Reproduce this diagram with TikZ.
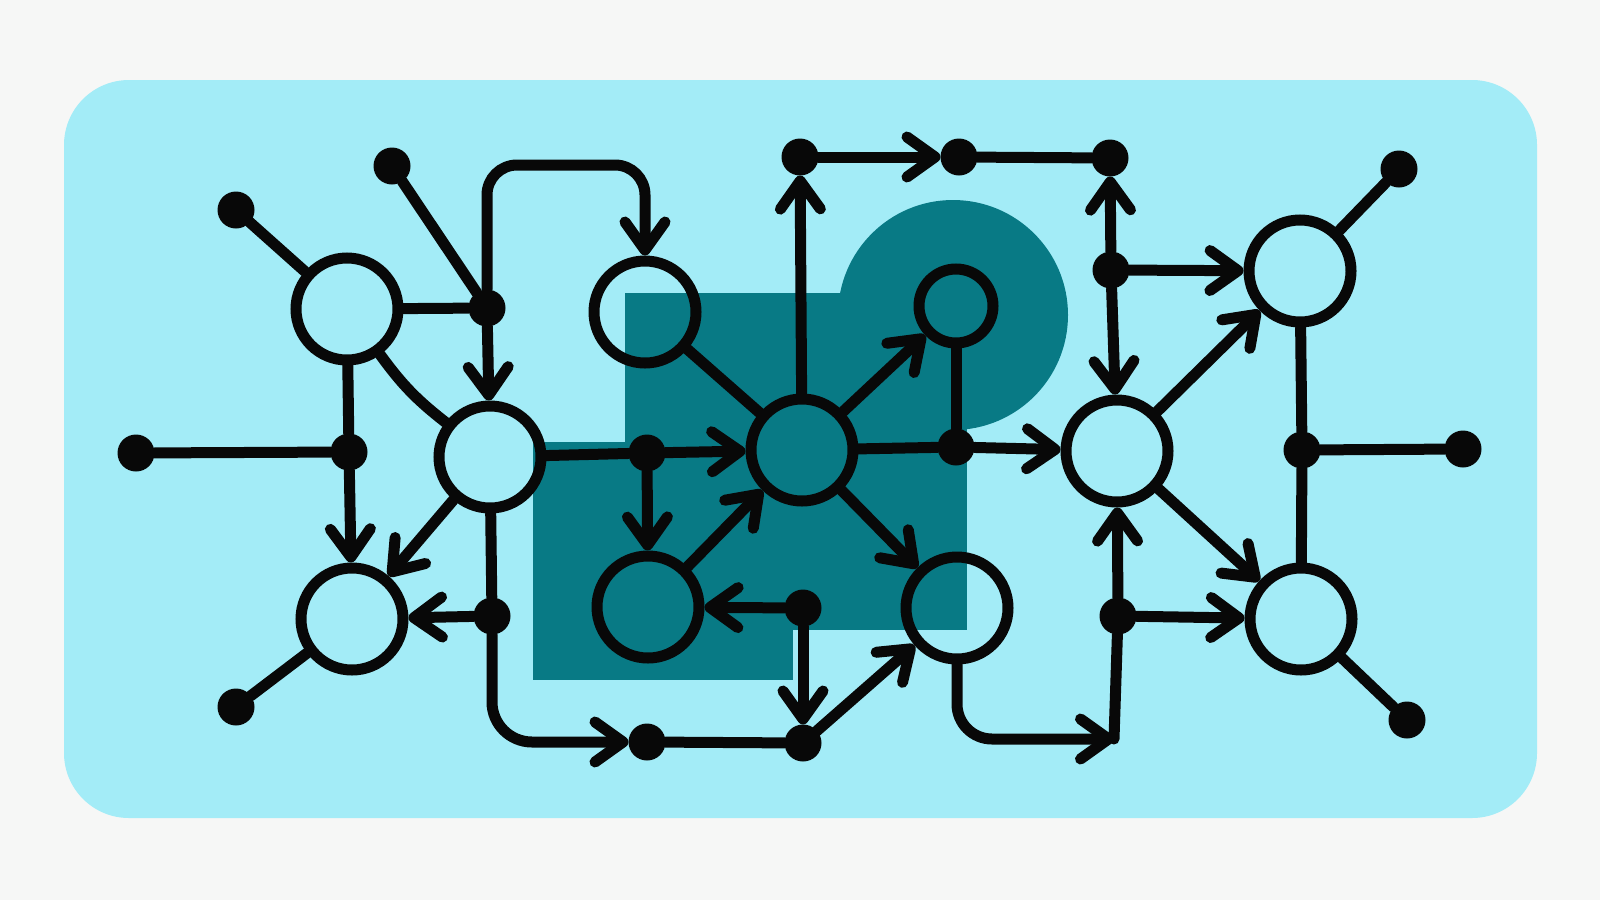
\documentclass[tikz,border=0pt]{standalone}
\usetikzlibrary{arrows.meta}

\definecolor{pagebg}{HTML}{F6F7F6}
\definecolor{panel}{HTML}{A3ECF7}
\definecolor{deepteal}{HTML}{087A85}
\definecolor{ink}{HTML}{080808}

\begin{document}
\begin{tikzpicture}[
    x=1pt, y=-1pt,
    hub/.style={circle, draw=ink, line width=11pt, minimum size=102pt, inner sep=0pt},
    smallhub/.style={hub, minimum size=74pt},
    junction/.style={circle, fill=ink, minimum size=37pt, inner sep=0pt, outer sep=0pt},
    wire/.style={draw=ink, line width=11pt, line cap=round},
    arrowwire/.style={wire, -{Straight Barb[length=28pt, width=40pt, round]}}
]
\useasboundingbox (0,0) rectangle (1600,900);

% Background panel
\fill[pagebg] (0,0) rectangle (1600,900);
\fill[panel, rounded corners=65] (64,80) rectangle (1537,818);

% Dark blocks behind the graph
\fill[deepteal] (625,293) rectangle (967,630);
\fill[deepteal] (953,315) circle[radius=115];
\fill[deepteal] (533,442) rectangle (793,680);

% Open hubs
\node[hub] (c1) at (347,309) {};
\node[hub] (c2) at (490,457) {};
\node[hub] (c3) at (352,619) {};
\node[hub] (c4) at (645,312) {};
\node[hub] (c5) at (802,450) {};
\node[smallhub] (c6) at (956,306) {};
\node[hub] (c7) at (648,607) {};
\node[hub] (c8) at (957,608) {};
\node[hub] (c9) at (1117,451) {};
\node[hub] (c10) at (1300,271) {};
\node[hub] (c11) at (1301,619) {};

% Junction dots
\node[junction] (d1) at (236,210) {};
\node[junction] (d2) at (392,166) {};
\node[junction] (d3) at (487,308) {};
\node[junction] (d4) at (136,453) {};
\node[junction] (d5) at (349,452) {};
\node[junction] (d6) at (492,616) {};
\node[junction] (d7) at (236,707) {};
\node[junction] (d8) at (647,453) {};
\node[junction] (d9) at (800,157) {};
\node[junction] (d10) at (959,157) {};
\node[junction] (d11) at (1110,158) {};
\node[junction] (d12) at (1111,270) {};
\node[junction] (d13) at (956,447) {};
\node[junction] (d14) at (803,608) {};
\node[junction] (d15) at (647,742) {};
\node[junction] (d16) at (803,743) {};
\node[junction] (d17) at (1399,169) {};
\node[junction] (d18) at (1302,450) {};
\node[junction] (d19) at (1463,449) {};
\node[junction] (d20) at (1118,616) {};
\node[junction] (d21) at (1407,720) {};
\coordinate (jn) at (1114,739);

% Left cluster
\draw[wire] (d1) -- (c1);
\draw[wire] (d2) -- (d3);
\draw[wire] (c1) -- (d3);
\draw[arrowwire] (d3) -- (c2);
\draw[arrowwire, rounded corners=30] (d3) -- ++(0,-143) -| (c4);
\draw[wire] (c1) to[bend right=8] (c2);
\draw[wire] (c1) -- (d5);
\draw[wire] (d4) -- (d5);
\draw[arrowwire] (d5) -- (c3);
\draw[arrowwire] (c2) -- (c3);
\draw[arrowwire] (d6) -- (c3);
\draw[wire] (c2) -- (d6);
\draw[arrowwire, rounded corners=40] (d6) |- (d15);
\draw[wire] (d7) -- (c3);

% Middle cluster
\draw[wire] (c2) -- (d8);
\draw[arrowwire] (d8) -- (c5);
\draw[arrowwire] (d8) -- (c7);
\draw[wire] (c4) -- (c5);
\draw[arrowwire] (c7) -- (c5);
\draw[arrowwire] (d14) -- (c7);
\draw[arrowwire] (d14) -- (d16);
\draw[wire] (d15) -- (d16);
\draw[arrowwire] (d16) -- (c8);
\draw[arrowwire] (c5) -- (c8);
\draw[arrowwire] (c5) -- (d9);
\draw[arrowwire] (d9) -- (d10);
\draw[wire] (d10) -- (d11);
\draw[arrowwire] (c5) -- (c6);
\draw[wire] (c6) -- (d13);
\draw[wire] (c5) -- (d13);
\draw[arrowwire] (d13) -- (c9);

% Right cluster
\draw[arrowwire] (d12) -- (d11);
\draw[arrowwire] (d12) -- (c10);
\draw[arrowwire] (d12) -- (c9);
\draw[arrowwire] (c9) -- (c10);
\draw[wire] (d17) -- (c10);
\draw[wire] (c10) -- (d18);
\draw[wire] (d18) -- (c11);
\draw[wire] (d18) -- (d19);
\draw[arrowwire] (c9) -- (c11);
\draw[arrowwire] (d20) -- (c9);
\draw[arrowwire] (d20) -- (c11);
\draw[wire] (c11) -- (d21);
\draw[arrowwire, rounded corners=35] (c8) |- (jn);
\draw[wire] (d20) -- (jn);

\end{tikzpicture}
\end{document}
